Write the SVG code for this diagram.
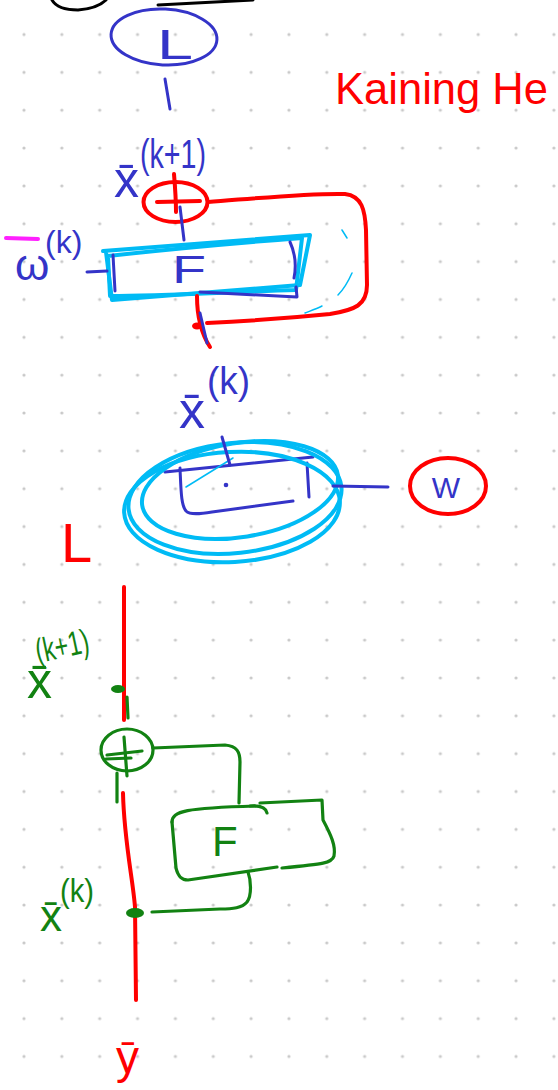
<svg xmlns="http://www.w3.org/2000/svg" width="558" height="1090" viewBox="0 0 558 1090">
<defs>
<pattern id="grid" patternUnits="userSpaceOnUse" x="5.075" y="15.575" width="37.85" height="37.85">
<circle cx="18.925" cy="18.925" r="1.6" fill="#c9c9c9"/>
</pattern>
<style>
.s{fill:none;stroke-linecap:round;stroke-linejoin:round}
.blue{stroke:#3434c8;stroke-width:3}
.red{stroke:#ff0000;stroke-width:4}
.cyan{stroke:#00bbf5;stroke-width:4}
.green{stroke:#128212;stroke-width:3.2}
.blk{stroke:#000;stroke-width:3}
.t{font-family:"Liberation Sans","DejaVu Sans",sans-serif}
.tb{fill:#3434c8}
.tr{fill:#ff0000}
.tg{fill:#128212}
</style>
</defs>
<rect width="558" height="1090" fill="#fff"/>
<rect width="558" height="1090" fill="url(#grid)"/>

<g id="top-fragment">
<path class="s blk" d="M52,0 C56,7 66,10 78,10 C92,9 101,5 106,0"/>
<path class="s blk" d="M158,5 L253,0"/>
</g>

<g id="loss-L">
<ellipse class="s blue" cx="164" cy="37" rx="53" ry="28" transform="rotate(3 164 37)"/>
<text class="t tb" x="157" y="59" font-size="42" textLength="36" lengthAdjust="spacingAndGlyphs">L</text>
</g>

<g id="author">
<text class="t tr" x="335" y="104" font-size="44" textLength="213" lengthAdjust="spacingAndGlyphs">Kaining He</text>
</g>

<g id="label-x-k1-blue">
<text class="t tb" x="114" y="197" font-size="50">x̄</text>
<text class="t tb" x="140" y="168" font-size="40" textLength="66" lengthAdjust="spacingAndGlyphs">(k+1)</text>
</g>

<g id="adder-red">
<ellipse class="s red" cx="175.5" cy="202" rx="32" ry="20"/>
<path class="s red" d="M174,174 C175,186 176,200 176,212"/>
<path class="s red" d="M157,202 L200,201"/>
</g>

<g id="label-w-k">
<path class="s" stroke="#ff20ff" stroke-width="4" d="M6,238 L38,239"/>
<text class="t tb" x="15" y="280" font-size="44">ω</text>
<text class="t tb" x="45" y="253" font-size="32">(k)</text>
</g>

<g id="block-F-blue">
<path class="s cyan" d="M103,251 L310,235 L300,285 L112,300 L106,252"/>
<path class="s cyan" stroke-width="3" d="M108,256 C180,248 250,242 302,238 L296,290 C230,292 160,296 110,296 Z"/>
<path class="s blue" d="M113,255 L115,291"/>
<path class="s blue" d="M290,242 C296,255 296,268 294,278"/>
<path class="s blue" d="M200,292 L297,297 L296,287"/>
<path class="s blue" d="M87,272 L107,271"/>
<text class="t tb" x="172" y="283" font-size="38" textLength="34" lengthAdjust="spacingAndGlyphs">F</text>
<path class="s" stroke="#00bbf5" stroke-width="1.5" d="M342,230 L347,238 M352,273 C348,282 344,289 338,295 M322,306 C316,309 310,311 305,313"/>
</g>

<g id="label-x-k-blue">
<text class="t tb" x="179" y="428" font-size="52">x̄</text>
<text class="t tb" x="207" y="394" font-size="38" textLength="43" lengthAdjust="spacingAndGlyphs">(k)</text>
</g>

<g id="weight-layer">
<path class="s blue" d="M165,472 L313,457"/>
<path class="s blue" d="M180,468 C181,490 181,505 186,511 C190,515 200,514 212,512 L293,501"/>
<path class="s blue" d="M307,463 L309,497"/>
<circle cx="226" cy="485" r="2.3" fill="#3434c8"/>
<path class="s" stroke="#00bbf5" stroke-width="1.5" d="M186,487 L233,458"/>
<ellipse class="s cyan" stroke-width="3" cx="235" cy="498" rx="107" ry="55" transform="rotate(-6 235 498)"/>
<ellipse class="s cyan" stroke-width="3" cx="232" cy="507" rx="108" ry="55" transform="rotate(-3 232 507)"/>
<ellipse class="s cyan" stroke-width="3" cx="240" cy="490" rx="99" ry="47" transform="rotate(-9 240 490)"/>
</g>

<g id="node-W">
<ellipse class="s red" stroke-width="3" cx="448" cy="486" rx="38" ry="28"/>
<text class="t tb" x="446" y="498" font-size="30" text-anchor="middle">W</text>
</g>

<g id="label-L-red">
<text class="t tr" x="61" y="562" font-size="56">L</text>
</g>

<g id="adder-green">
<ellipse class="s green" cx="127" cy="750" rx="26" ry="21"/>
<path class="s green" d="M107,755 L142,751 M106,759 L131,758"/>
<path class="s green" d="M124,737 L127,776"/>
</g>

<g id="block-F-green">
<path class="s green" d="M172,822 C172,811 186,808 255,806"/>
<path class="s green" d="M250,806 C262,805 266,808 267,813"/>
<path class="s green" d="M260,803 L322,800 L323,820 C331,835 336,846 334,856 C332,863 324,864 282,868"/>
<path class="s green" d="M277,867 L188,880 C181,880 178,876 176,868 L172,822"/>
<text class="t tg" x="212" y="856" font-size="42">F</text>
</g>

<g id="label-x-k1-green">
<text class="t tg" x="27" y="698" font-size="50">x̄</text>
<text class="t tg" x="38" y="663" font-size="34" textLength="54" lengthAdjust="spacingAndGlyphs" transform="rotate(-12 38 663)">(k+1)</text>
</g>

<g id="label-x-k-green">
<text class="t tg" x="40" y="931" font-size="44">x̄</text>
<text class="t tg" x="60" y="902" font-size="34" textLength="34" lengthAdjust="spacingAndGlyphs">(k)</text>
</g>

<g id="label-y-red">
<text class="t tr" x="116" y="1073" font-size="46">ȳ</text>
</g>

<g id="connectors">
<path class="s blue" d="M165,79 L170,109"/>
<path class="s blue" d="M180,207 L184,240"/>
<path class="s red" d="M208,202 C260,198 310,193 345,194 C362,196 365,210 366,230 L367,285 C367,305 355,310 330,314 C290,318 250,321 207,323"/>
<ellipse cx="197" cy="326" rx="5" ry="3.5" fill="#ff0000"/>
<path class="s red" stroke-width="3" d="M197,296 C197,310 199,330 210,347"/>
<path class="s blue" d="M200,313 L207,343"/>
<path class="s blue" d="M222,437 L230,465"/>
<path class="s blue" d="M333,486 L388,487"/>
<path class="s red" stroke-width="5" d="M124,587 L124,720"/>
<path class="s red" stroke-width="5" d="M123,793 C124,840 133,880 135,907 L136,1000"/>
<ellipse cx="118" cy="689" rx="7" ry="4" fill="#128212"/>
<path class="s green" d="M127,697 L128,718"/>
<path class="s green" d="M117,773 L117,802"/>
<path class="s green" d="M153,748 L225,745 C237,746 240,752 240,762 L239,803"/>
<path class="s green" d="M248,872 C251,880 252,895 247,902 C242,908 233,909 220,909 L152,912"/>
<ellipse cx="135" cy="913" rx="9" ry="5" fill="#128212"/>
</g>
</svg>
